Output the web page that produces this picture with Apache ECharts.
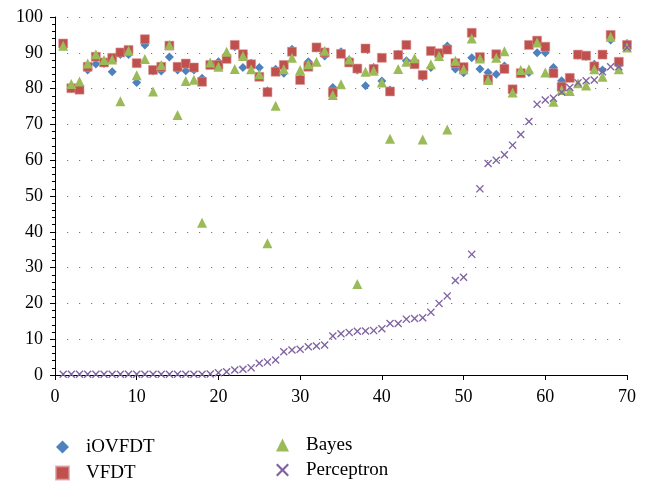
<!DOCTYPE html>
<html>
<head>
<meta charset="utf-8">
<script src="https://cdn.jsdelivr.net/npm/echarts@6/dist/echarts.min.js"></script>
<style>
  html, body { margin: 0; padding: 0; background: #fff; }
  #chart { width: 649px; height: 482px; }
</style>
</head>
<body>
<div id="chart"></div>
<script>
// x positions (run index)
var runs = [1,2,3,4,5,6,7,8,9,10,11,12,13,14,15,16,17,18,19,20,
  21,22,23,24,25,26,27,28,29,30,31,32,33,34,35,36,37,38,39,40,
  41,42,43,44,45,46,47,48,49,50,51,52,53,54,55,56,57,58,59,60,
  61,62,63,64,65,66,67,68,69,70];

var iovfdt = [92.3,80.0,80.0,85.2,86.9,87.0,84.7,89.5,89.5,81.7,92.2,84.9,84.9,88.8,85.2,85.0,85.2,82.9,86.8,87.5,
  89.0,91.7,85.9,87.1,85.9,79.4,85.4,84.3,91.0,82.9,87.5,91.4,89.1,80.3,90.3,88.0,85.2,80.8,85.9,82.1,
  79.6,89.6,87.8,87.0,83.3,85.9,89.5,91.9,85.5,84.4,88.6,85.5,84.5,84.0,86.3,79.8,84.6,84.5,90.0,90.0,
  85.9,82.2,83.0,89.3,89.0,86.8,85.2,93.6,86.5,92.6];

var vfdt = [92.6,80.1,79.7,86.1,88.9,87.3,88.6,90.1,90.8,87.1,93.8,85.2,86.1,92.0,86.1,87.0,85.9,81.9,86.6,86.6,
  88.3,92.2,89.6,86.8,83.3,79.0,84.7,86.6,90.3,82.4,86.1,91.5,90.1,78.9,89.7,87.3,85.6,91.2,85.5,88.6,
  79.2,89.4,92.2,86.8,83.8,90.5,89.9,90.9,87.1,86.0,95.6,88.8,82.6,89.6,85.5,79.8,84.3,92.2,93.4,91.7,
  84.3,80.5,83.0,89.5,89.2,86.2,89.5,95.0,87.5,92.2];

var bayes = [92.0,81.3,82.0,87.0,89.6,88.0,88.1,76.5,90.6,83.7,88.3,79.2,86.6,92.2,72.6,82.1,82.5,42.5,87.3,86.1,
  90.3,85.5,89.1,85.4,84.0,36.8,75.2,85.4,88.6,85.2,86.8,87.5,90.6,78.2,81.2,88.1,25.4,84.7,85.0,81.7,
  66.0,85.5,87.5,88.5,65.8,86.8,89.1,68.6,87.8,85.4,94.0,88.4,82.4,88.6,90.4,78.9,85.2,85.4,92.9,84.5,
  76.3,79.6,79.3,81.5,80.9,85.4,83.3,94.5,85.4,91.5];

var perceptron = [0.2,0.2,0.2,0.2,0.2,0.2,0.2,0.2,0.2,0.2,0.2,0.2,0.2,0.2,0.2,0.2,0.2,0.2,0.3,0.65,
  0.9,1.4,1.6,2.0,3.3,3.6,4.2,6.5,7.0,7.2,7.9,8.1,8.4,10.9,11.5,11.9,12.2,12.3,12.4,12.9,
  14.4,14.4,15.6,15.8,16.0,17.5,20.0,22.1,26.4,27.3,33.7,52.0,59.1,60.0,61.5,64.2,67.2,70.8,75.6,76.8,
  77.3,79.0,80.3,81.6,82.2,82.4,84.7,86.1,86.1,91.5];

var xTicks = [0, 10, 20, 30, 40, 50, 60, 70];
var yTicks = [0, 10, 20, 30, 40, 50, 60, 70, 80, 90, 100];

function pairs(vals) {
  return runs.map(function (x, i) { return [x, vals[i]]; });
}

var serif = '"Liberation Serif", "DejaVu Serif", serif';
var crossPath = 'path://M0,1.2L1.2,0L5,3.8L8.8,0L10,1.2L6.2,5L10,8.8L8.8,10L5,6.2L1.2,10L0,8.8L3.8,5Z';

var chart = echarts.init(document.getElementById('chart'));

var legendText = {
  fontFamily: serif,
  fontSize: 19,
  color: '#000',
  lineHeight: 20,
  padding: [0, 0, 0, 12]
};

var option = {
  animation: false,
  backgroundColor: '#fff',
  grid: { left: 55, right: 22, top: 17, bottom: 107 },
  legend: [
    {
      data: ['iOVFDT', 'VFDT'],
      orient: 'vertical',
      left: 55,
      top: 437,
      height: 60,
      padding: 0,
      itemWidth: 13,
      itemHeight: 13,
      itemGap: 6,
      textStyle: legendText
    },
    {
      data: ['Bayes', 'Perceptron'],
      orient: 'vertical',
      left: 276,
      top: 435,
      height: 60,
      padding: 0,
      itemWidth: 13,
      itemHeight: 13,
      itemGap: 5,
      textStyle: legendText
    }
  ],
  xAxis: {
    type: 'value',
    min: xTicks[0],
    max: xTicks[xTicks.length - 1],
    interval: 10,
    axisLine: { lineStyle: { color: '#000', width: 1 } },
    axisTick: { show: true, length: 5, lineStyle: { color: '#000' } },
    axisLabel: { fontFamily: serif, fontSize: 18, color: '#000', margin: 13 },
    splitLine: { show: false }
  },
  yAxis: {
    type: 'value',
    min: yTicks[0],
    max: yTicks[yTicks.length - 1],
    interval: 10,
    axisLine: { show: true, lineStyle: { color: '#000', width: 1 } },
    axisTick: { show: true, length: 5, lineStyle: { color: '#000' } },
    minorTick: { show: true, splitNumber: 5, length: 3, lineStyle: { color: '#000' } },
    axisLabel: { fontFamily: serif, fontSize: 18, color: '#000', margin: 12 },
    splitLine: { show: true, lineStyle: { color: '#777', width: 1.2, type: [1.2, 10.8] } }
  },
  series: [
    {
      name: 'iOVFDT',
      type: 'scatter',
      symbol: 'diamond',
      symbolSize: 9,
      itemStyle: { color: '#4F81BD', opacity: 1 },
      data: pairs(iovfdt)
    },
    {
      name: 'VFDT',
      type: 'scatter',
      symbol: 'rect',
      symbolSize: 9,
      itemStyle: { color: '#C0504D', opacity: 1, borderColor: 'rgba(217,150,148,0.7)', borderWidth: 0.8 },
      data: pairs(vfdt)
    },
    {
      name: 'Bayes',
      type: 'scatter',
      symbol: 'triangle',
      symbolSize: 10,
      itemStyle: { color: '#9BBB59', opacity: 1 },
      data: pairs(bayes)
    },
    {
      name: 'Perceptron',
      type: 'scatter',
      symbol: crossPath,
      symbolSize: 8,
      itemStyle: { color: '#8064A2', opacity: 1 },
      data: pairs(perceptron)
    }
  ]
};

chart.setOption(option);
</script>
</body>
</html>
